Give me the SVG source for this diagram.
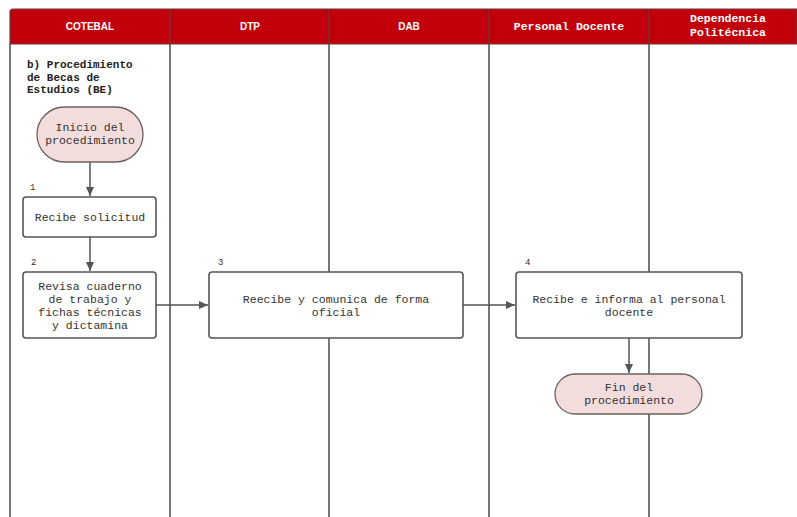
<svg xmlns="http://www.w3.org/2000/svg" width="797" height="517" viewBox="0 0 797 517">
<style>
.lane{stroke:#555;stroke-width:1.6;fill:none}
.hd{fill:#c1000c;stroke:#6a3a3a;stroke-width:1.2}
.ht{font-family:"Liberation Sans",Arial,sans-serif;font-weight:bold;font-size:10px;fill:#fff;text-anchor:middle}
.hm{font-family:"Liberation Mono","DejaVu Sans Mono",monospace;font-weight:bold;font-size:11.5px;fill:#fff;text-anchor:middle}
.box{fill:#fff;stroke:#555;stroke-width:1.6}
.term{fill:#f3dcdc;stroke:#6e6060;stroke-width:1.3}
.t{font-family:"Liberation Mono","DejaVu Sans Mono",monospace;font-size:11.5px;fill:#333;text-anchor:middle}
.n{font-family:"Liberation Mono","DejaVu Sans Mono",monospace;font-size:9px;fill:#333}
.title{font-family:"Liberation Mono","DejaVu Sans Mono",monospace;font-weight:bold;font-size:11px;fill:#222}
.c{stroke:#555;stroke-width:1.5;fill:none;marker-end:url(#ah)}
</style>
<defs>
<marker id="ah" markerWidth="10" markerHeight="10" refX="9" refY="5" orient="auto" markerUnits="userSpaceOnUse">
<path d="M0,1 L9,5 L0,9 Z" fill="#555"/>
</marker>
</defs>
<rect width="797" height="517" fill="#fff"/>
<g id="lanes">
<path class="lane" d="M10,44 V517 M170,44 V517 M329,44 V517 M489,44 V517 M649,44 V517"/>
</g>
<g id="header">
<path class="hd" d="M13,9 H797 V44 H10 V12 Q10,9 13,9 Z"/>
<path stroke="#6a3a3a" stroke-width="1.2" d="M170,9 V44 M329,9 V44 M489,9 V44 M649,9 V44"/>
<text class="ht" x="90" y="30">COTEBAL</text>
<text class="ht" x="250" y="30">DTP</text>
<text class="ht" x="409" y="30">DAB</text>
<text class="hm" x="569" y="30">Personal Docente</text>
<text class="hm" x="728" y="22">Dependencia</text>
<text class="hm" x="728" y="35.5">Politécnica</text>
</g>
<g id="title">
<text class="title" x="27" y="68">b) Procedimiento</text>
<text class="title" x="27" y="80.5">de Becas de</text>
<text class="title" x="27" y="93">Estudios (BE)</text>
</g>
<g id="connectors">
<path class="c" d="M90,162 V196"/>
<path class="c" d="M90,237 V271"/>
<path class="c" d="M156,305 H208"/>
<path class="c" d="M463,305 H515"/>
<path class="c" d="M629,338 V373"/>
</g>
<g id="start">
<rect class="term" x="37" y="107" width="106" height="55" rx="27.5"/>
<text class="t" x="90" y="131">Inicio del</text>
<text class="t" x="90" y="144">procedimiento</text>
</g>
<g id="step1">
<text class="n" x="30" y="190">1</text>
<rect class="box" x="23" y="197" width="133" height="40" rx="3"/>
<text class="t" x="90" y="221">Recibe solicitud</text>
</g>
<g id="step2">
<text class="n" x="31" y="265">2</text>
<rect class="box" x="23" y="272" width="133" height="66" rx="3"/>
<text class="t" x="90" y="290">Revisa cuaderno</text>
<text class="t" x="90" y="303">de trabajo y</text>
<text class="t" x="90" y="316">fichas técnicas</text>
<text class="t" x="90" y="329">y dictamina</text>
</g>
<g id="step3">
<text class="n" x="218" y="265">3</text>
<rect class="box" x="209" y="272" width="254" height="66" rx="3"/>
<text class="t" x="336" y="302.5">Reecibe y comunica de forma</text>
<text class="t" x="336" y="315.5">oficial</text>
</g>
<g id="step4">
<text class="n" x="525" y="265">4</text>
<rect class="box" x="516" y="272" width="226" height="66" rx="3"/>
<text class="t" x="629" y="302.5">Recibe e informa al personal</text>
<text class="t" x="629" y="315.5">docente</text>
</g>
<g id="end">
<rect class="term" x="555" y="374" width="147" height="40" rx="20"/>
<text class="t" x="629" y="391">Fin del</text>
<text class="t" x="629" y="404">procedimiento</text>
</g>
</svg>
